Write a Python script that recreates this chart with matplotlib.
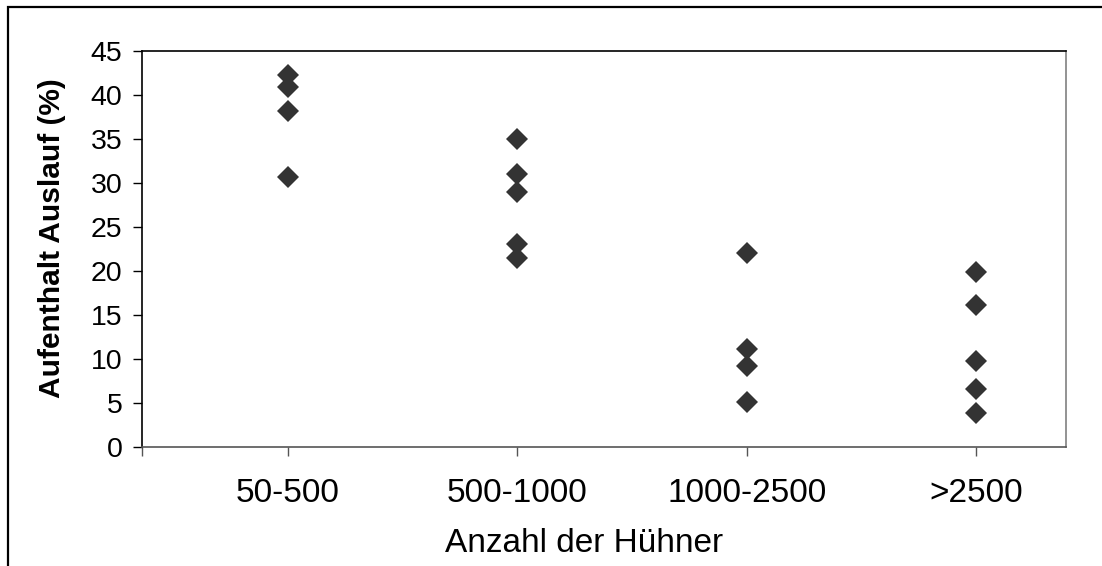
import matplotlib
matplotlib.use("Agg")
from matplotlib import pyplot as plt
from matplotlib.patches import Rectangle

plt.rcParams['font.family'] = ['Liberation Sans', 'DejaVu Sans']

categories = ['50-500', '500-1000', '1000-2500', '>2500']
group_50_500 = [42.2, 40.9, 38.2, 30.7]
group_500_1000 = [35.0, 31.0, 28.9, 23.0, 21.4]
group_1000_2500 = [22.0, 11.1, 9.2, 5.1]
group_2500 = [19.9, 16.1, 9.7, 6.6, 3.8]
groups = [group_50_500, group_500_1000, group_1000_2500, group_2500]

fig = plt.figure(figsize=(11.02, 5.66), dpi=100)
ax = fig.add_axes([0.1293, 0.2108, 0.838, 0.6996])

for i, vals in enumerate(groups):
    ax.plot([i + 1] * len(vals), vals, linestyle='none', marker='D',
            markersize=10.8, color='#333333', markeredgewidth=0)

x_left, x_right = 0.3655, 4.3925
ax.set_xlim(x_left, x_right)
ax.set_ylim(0, 45)
ax.set_yticks(range(0, 46, 5))
ax.set_xticks([x_left, 1, 2, 3, 4])
ax.set_xticklabels([''] + categories)

ax.spines['top'].set_color('black')
ax.spines['left'].set_color('black')
ax.spines['right'].set_color('#808080')
ax.spines['bottom'].set_color('#555555')
for s in ax.spines.values():
    s.set_linewidth(1.2)

ax.tick_params(axis='y', direction='out', length=6.5, width=1.0, pad=8,
               labelsize=20.5, colors='black')
ax.tick_params(axis='x', direction='out', length=6.5, width=1.0, pad=16,
               labelsize=24, color='#555555', labelcolor='black')

ax.set_ylabel('Aufenthalt Auslauf (%)', fontsize=21.5, fontweight='bold')
ax.set_xlabel('Anzahl der Hühner', fontsize=24)
# label centres (pixels -> axes fraction)
ax.yaxis.set_label_coords(-0.083, 0.526)
ax.xaxis.set_label_coords(0.478, -0.205)
ax.xaxis.label.set_va('top')

# outer chart border (cropped: only left and top visible)
fig.patches.append(Rectangle((8 / 1102, -0.1), 1.2, 1.1 - 7 / 566,
                             transform=fig.transFigure, fill=False,
                             edgecolor='black', linewidth=1.6))

plt.savefig('out.png', dpi=100)
